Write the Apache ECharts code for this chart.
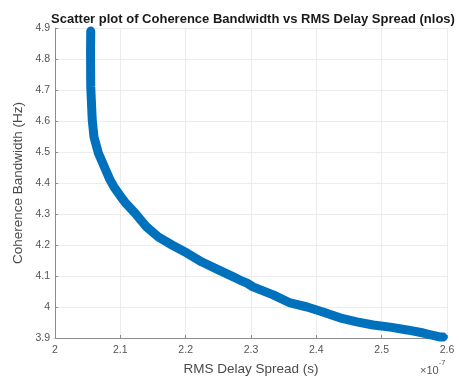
<!DOCTYPE html>
<html>
<head>
<meta charset="utf-8">
<script src="https://cdn.jsdelivr.net/npm/echarts@6/dist/echarts.min.js"></script>
<style>html,body{margin:0;padding:0;background:#fff;}#c{width:459px;height:377px;}</style>
</head>
<body>
<div id="c"></div>
<script>
// RMS delay spread in units of 1e-7 s
const rmsDelaySpread = [2.0547, 2.0544, 2.0547, 2.0570, 2.0597, 2.0663, 2.0776, 2.0842, 2.0904, 2.1046,
  2.1083, 2.1225, 2.1404, 2.158, 2.179, 2.202, 2.225, 2.251, 2.273, 2.283,
  2.294, 2.303, 2.334, 2.360, 2.386, 2.410, 2.436, 2.462, 2.487, 2.513,
  2.539, 2.564, 2.590, 2.594];
// Coherence bandwidth (Hz)
const coherenceBandwidth = [4.890, 4.819, 4.710, 4.603, 4.548, 4.497, 4.442, 4.410, 4.387, 4.345,
  4.335, 4.303, 4.258, 4.226, 4.200, 4.174, 4.145, 4.119, 4.097, 4.087,
  4.077, 4.065, 4.039, 4.013, 4.000, 3.984, 3.965, 3.952, 3.942, 3.935,
  3.926, 3.916, 3.903, 3.903];
const xTicks = [2, 2.1, 2.2, 2.3, 2.4, 2.5, 2.6];
const yTicks = [3.9, 4, 4.1, 4.2, 4.3, 4.4, 4.5, 4.6, 4.7, 4.8, 4.9];
const titleText = 'Scatter plot of Coherence Bandwidth vs RMS Delay Spread (nlos)';
const xName = 'RMS Delay Spread (s)';
const yName = 'Coherence Bandwidth (Hz)';

const FONT = '"Liberation Sans", Arial, sans-serif';
const chart = echarts.init(document.getElementById('c'), null, {renderer: 'canvas'});
const data = rmsDelaySpread.map((x, i) => [x, coherenceBandwidth[i]]);
const fmt = v => String(Math.round(v * 10) / 10);

chart.setOption({
  animation: false,
  backgroundColor: '#fff',
  title: {
    text: titleText, left: 248, top: 8, textAlign: 'center',
    textStyle: {fontFamily: FONT, fontSize: 13, fontWeight: 'bold', color: '#1a1a1a'}
  },
  grid: {left: 55, right: 12, top: 28, bottom: 39, containLabel: false, outerBoundsMode: 'none'},
  xAxis: {
    type: 'value', min: xTicks[0], max: xTicks[xTicks.length - 1], interval: 0.1,
    name: xName, nameLocation: 'middle', nameGap: 24, nameMoveOverlap: false,
    nameTextStyle: {fontFamily: FONT, fontSize: 13.5, color: '#4a4a4a'},
    axisLine: {show: true, lineStyle: {color: '#8c8c8c', width: 1}},
    axisTick: {show: true, inside: true, length: 3, lineStyle: {color: '#8c8c8c'}},
    axisLabel: {formatter: fmt, fontFamily: FONT, fontSize: 10.5, color: '#555', margin: 7},
    splitLine: {show: true, lineStyle: {color: '#ececec', width: 1}}
  },
  yAxis: {
    type: 'value', min: yTicks[0], max: yTicks[yTicks.length - 1], interval: 0.1,
    name: yName, nameLocation: 'middle', nameGap: 30, nameRotate: 90, nameMoveOverlap: false,
    nameTextStyle: {fontFamily: FONT, fontSize: 13.5, color: '#4a4a4a'},
    axisLine: {show: true, lineStyle: {color: '#8c8c8c', width: 1}},
    axisTick: {show: true, inside: true, length: 3, lineStyle: {color: '#8c8c8c'}},
    axisLabel: {formatter: fmt, fontFamily: FONT, fontSize: 10.5, color: '#555', margin: 5},
    splitLine: {show: true, lineStyle: {color: '#ececec', width: 1}}
  },
  graphic: [{
    type: 'text', left: 420, top: 359,
    style: {
      text: '{a|×10}{b|-7}',
      rich: {
        a: {fontFamily: FONT, fontSize: 11, fill: '#555', padding: [6, 0, 0, 0]},
        b: {fontFamily: FONT, fontSize: 7.5, fill: '#555', verticalAlign: 'top'}
      }
    }
  }],
  series: [{
    type: 'line', name: 'nlos', data: data,
    showSymbol: false, symbol: 'none', smooth: false,
    lineStyle: {color: '#0072BD', width: 9, cap: 'round', join: 'round'}
  }]
});
</script>
</body>
</html>
